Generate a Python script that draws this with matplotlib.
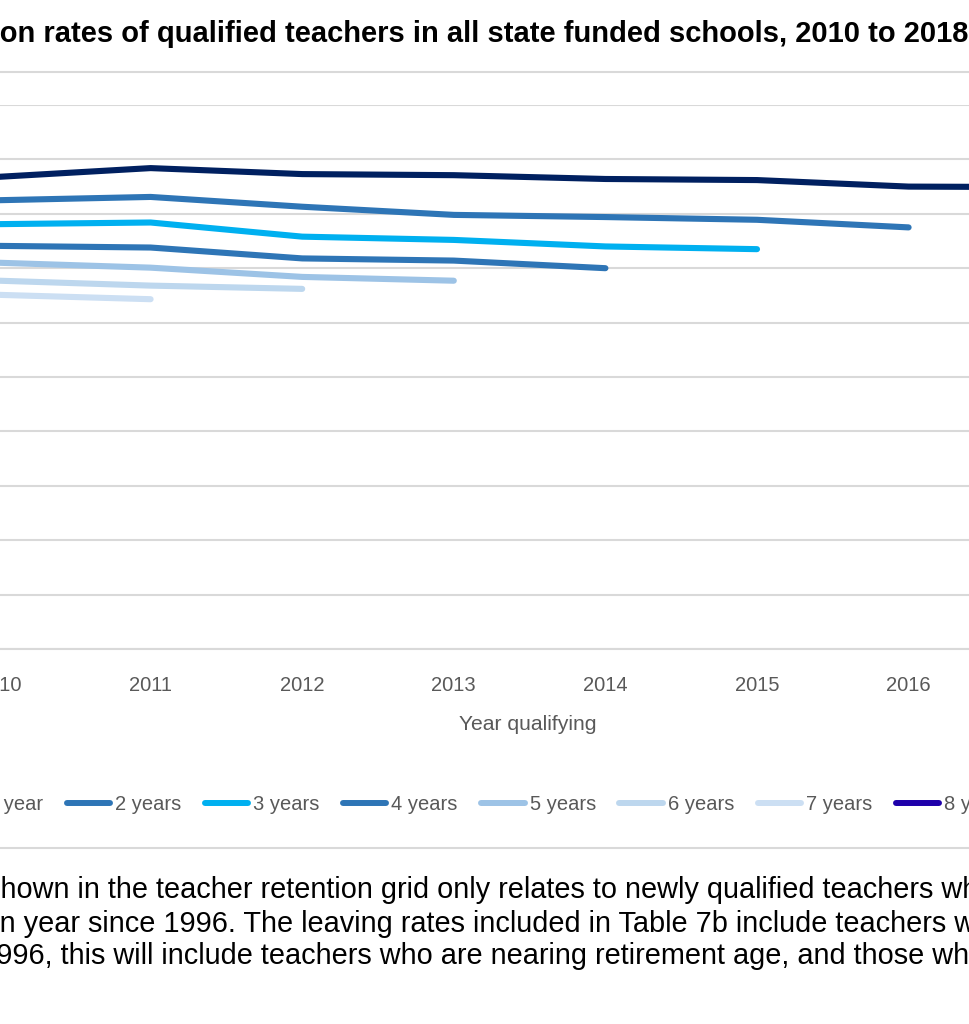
import matplotlib
matplotlib.use('Agg')
import matplotlib.pyplot as plt
from matplotlib.lines import Line2D
from matplotlib.patches import Rectangle
import numpy as np

# ---------------- data ----------------
years = [2010, 2011, 2012, 2013, 2014, 2015, 2016, 2017]
series_names = ['1 year', '2 years', '3 years', '4 years',
                '5 years', '6 years', '7 years', '8 years']
one_year = [86.8, 88.4, 87.3, 87.1, 86.4, 86.2, 85.0, 84.9]
two_years = [82.5, 83.1, 81.3, 79.8, 79.4, 78.9, 77.5]
three_years = [78.1, 78.4, 75.8, 75.2, 74.0, 73.5]
four_years = [74.1, 73.8, 71.8, 71.4, 70.0]
five_years = [71.0, 70.1, 68.4, 67.7]
six_years = [67.7, 66.8, 66.2]
seven_years = [65.1, 64.3]
eight_years = [62.6]
series_values = [one_year, two_years, three_years, four_years,
                 five_years, six_years, seven_years, eight_years]
series_colors = ['#002060', '#2E75B6', '#00B0F0', '#2E75B6',
                 '#9DC3E6', '#BDD7EE', '#CCDFF3', '#1E00AA']
y_ticks = list(range(0, 101, 10))
x_label = 'Year qualifying'
title_prefix = 'Retenti'
title_rest = 'on rates of qualified teachers in all state funded schools, 2010 to 2018'
note_lines = [
    ('The data s', 'hown in the teacher retention grid only relates to newly qualified teachers who have'),
    ('in a give', 'n year since 1996. The leaving rates included in Table 7b include teachers who qualified'),
    ('before 1', '996, this will include teachers who are nearing retirement age, and those who have'),
]

# ---------------- layout helpers ----------------
W, H = 970, 1024
def fx(px):
    return px / W
def fy(py):
    return 1 - py / H

fig = plt.figure(figsize=(W / 100, H / 100), dpi=100)
fig.patch.set_facecolor('white')

chart_font = ['Liberation Sans', 'DejaVu Sans']
doc_font = ['Liberation Sans', 'DejaVu Sans']
grid_c = '#D9D9D9'
tick_c = '#595959'
chart_fs = 14.5

# plot area (category axis 2010..2017, half-category padding each side)
x0_px, x1_px = -76.8, 1136.0
top_px, bot_px = 105.0, 649.0
ax = fig.add_axes([fx(x0_px), fy(bot_px), (x1_px - x0_px) / W, (bot_px - top_px) / H])
ax.set_xlim(years[0] - 0.5, years[-1] + 0.5)
ax.set_ylim(0, 100)
ax.set_yticks(y_ticks)
ax.set_yticklabels([f'{v}%' for v in y_ticks])
ax.set_xticks(years)
ax.set_xticklabels([str(y) for y in years])
ax.grid(axis='y', color=grid_c, lw=1.5)
ax.set_axisbelow(True)
for s in ['top', 'right', 'left']:
    ax.spines[s].set_visible(False)
ax.spines['bottom'].set_color(grid_c)
ax.spines['bottom'].set_linewidth(1.5)
ax.tick_params(axis='x', length=0, pad=19.5, labelsize=chart_fs, labelcolor=tick_c)
ax.tick_params(axis='y', length=0, labelsize=chart_fs, labelcolor=tick_c)
for lab in ax.get_xticklabels() + ax.get_yticklabels():
    lab.set_family(chart_font)

handles = []
for name, vals, col in zip(series_names, series_values, series_colors):
    ax.plot(years[:len(vals)], vals, color=col, lw=4.4,
            solid_capstyle='round', solid_joinstyle='round', label=name)
    handles.append(Line2D([], [], color=col, lw=4.3, solid_capstyle='round'))

ax.set_xlabel(x_label, fontsize=15.2, color=tick_c, family=chart_font)
ax.xaxis.set_label_coords((527.5 - x0_px) / (x1_px - x0_px),
                          (bot_px - 715.0) / (bot_px - top_px))

fig.legend(handles, series_names, ncol=8, loc='center left',
           bbox_to_anchor=(fx(-61.5), fy(805)), frameon=False,
           handlelength=2.15, handletextpad=0.25, columnspacing=1.17,
           borderpad=0, borderaxespad=0,
           prop={'family': chart_font, 'size': chart_fs}, labelcolor=tick_c)

# chart-area border
fig.add_artist(Rectangle((fx(-60), fy(848)), fx(1100), (848 - 72) / H,
                         transform=fig.transFigure, fill=False,
                         edgecolor=grid_c, lw=1.5))

# ---------------- document text (clipped at the page edges) ----------------
renderer = fig.canvas.get_renderer()
def place_clipped(prefix, rest, x_vis_px, base_px, **kw):
    t = fig.text(0, 0, prefix, **kw)
    w = t.get_window_extent(renderer).width
    t.remove()
    fig.text(fx(x_vis_px - w), fy(base_px), prefix + rest,
             ha='left', va='baseline', **kw)

place_clipped(title_prefix, title_rest, 0, 41.7,
              family=doc_font, fontsize=20.95, fontweight='bold', color='black')
for (pre, rest), base in zip(note_lines, [898.3, 931.7, 964.5]):
    x_vis = -4 if pre.endswith('1') else 0
    place_clipped(pre, rest, x_vis, base, family=doc_font, fontsize=20.8, color='black')

fig.savefig('out.png', dpi=100)
